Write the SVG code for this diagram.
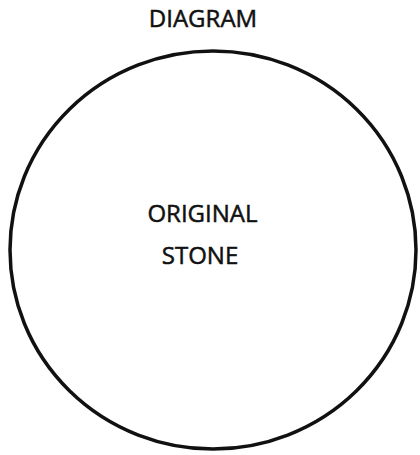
<svg xmlns="http://www.w3.org/2000/svg" width="420" height="455" viewBox="0 0 420 455">
<style>
.t{font-family:"Open Sans","Noto Sans","DejaVu Sans",sans-serif;font-size:24px;fill:#111;stroke:#111;stroke-width:0.5;text-anchor:middle}
.c{fill:none;stroke:#111;stroke-width:3.5}
</style>
<rect width="420" height="455" fill="#fff"/>
<text class="t" x="203" y="27">DIAGRAM</text>
<g id="stone">
<ellipse class="c" cx="213" cy="250" rx="203" ry="199"/>
<text class="t" x="202.5" y="222">ORIGINAL</text>
<text class="t" x="200" y="264">STONE</text>
</g>
</svg>
